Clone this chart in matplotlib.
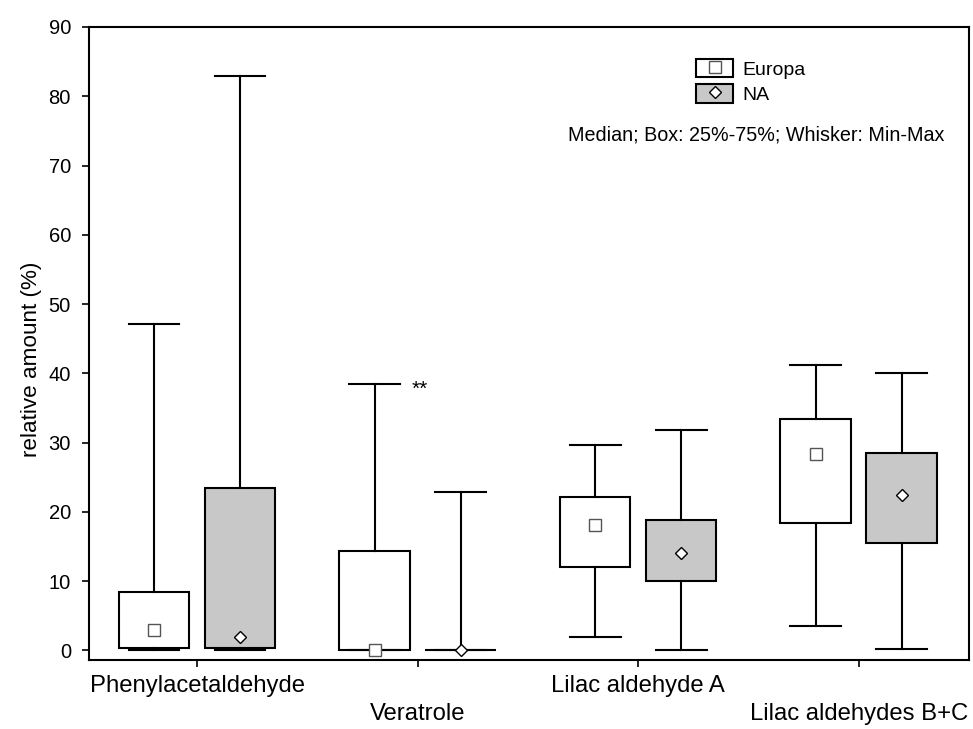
import matplotlib
matplotlib.use("Agg")
import matplotlib.pyplot as plt
from matplotlib.patches import Patch
from matplotlib.lines import Line2D

plt.rcParams['font.family'] = ['Liberation Sans', 'DejaVu Sans']

categories = ["Phenylacetaldehyde", "Veratrole", "Lilac aldehyde A", "Lilac aldehydes B+C"]
groups = ["Europa", "NA"]

# min, Q1, median, Q3, max per category
europa_min = [0.0, 0.0, 1.9, 3.5]
europa_q1 = [0.3, 0.0, 12.1, 18.4]
europa_med = [3.0, 0.0, 18.1, 28.3]
europa_q3 = [8.4, 14.3, 22.1, 33.4]
europa_max = [47.1, 38.4, 29.6, 41.2]

na_min = [0.0, 0.0, 0.0, 0.2]
na_q1 = [0.3, 0.0, 10.0, 15.5]
na_med = [1.9, 0.0, 14.0, 22.4]
na_q3 = [23.4, 0.0, 18.8, 28.5]
na_max = [82.9, 22.8, 31.8, 40.0]

yticks = [0, 10, 20, 30, 40, 50, 60, 70, 80, 90]
note_text = "Median; Box: 25%-75%; Whisker: Min-Max"
signif_text = "**"


def make_stats(mins, q1s, meds, q3s, maxs):
    return [dict(whislo=a, q1=b, med=c, q3=d, whishi=e, mean=c, fliers=[])
            for a, b, c, d, e in zip(mins, q1s, meds, q3s, maxs)]


fig = plt.figure(figsize=(9.73, 7.29), dpi=100)
ax = fig.add_axes([89 / 973, 69 / 729, 880 / 973, 633 / 729])

offset = 0.195
bw = 0.32
cw = 0.23
n = len(categories)
lw = 1.5

styles = [
    dict(face="white", marker="s", ms=8.2, mec="#555555"),
    dict(face="#c8c8c8", marker="D", ms=6.6, mec="black"),
]
datasets = [
    make_stats(europa_min, europa_q1, europa_med, europa_q3, europa_max),
    make_stats(na_min, na_q1, na_med, na_q3, na_max),
]

for gi, (stats, st) in enumerate(zip(datasets, styles)):
    pos = [i + (offset if gi else -offset) for i in range(n)]
    ax.bxp(stats, positions=pos, widths=bw, capwidths=cw,
           patch_artist=True, showmeans=True, showfliers=False,
           boxprops=dict(facecolor=st["face"], edgecolor="black", linewidth=lw),
           whiskerprops=dict(color="black", linewidth=lw),
           capprops=dict(color="black", linewidth=lw),
           medianprops=dict(linewidth=0),
           meanprops=dict(marker=st["marker"], markerfacecolor="white",
                          markeredgecolor=st["mec"], markersize=st["ms"],
                          markeredgewidth=1.0),
           manage_ticks=False)

ax.set_xlim(-0.49, 3.5)
ax.set_ylim(-1.4, 90)
ax.set_yticks(yticks)
ax.set_yticklabels([str(t) for t in yticks], fontsize=14.5)
ax.set_xticks(range(n))
xt = ax.set_xticklabels([c if i % 2 == 0 else "\n" + c for i, c in enumerate(categories)],
                        fontsize=17.2)
for t in xt:
    t.set_linespacing(1.35)
ax.tick_params(axis='y', length=5, width=1.2, pad=8, direction='out')
ax.tick_params(axis='x', length=5, width=1.2, pad=6, direction='out')
for sp in ax.spines.values():
    sp.set_linewidth(1.5)

ax.set_ylabel("relative amount (%)", fontsize=16.2)
ax.yaxis.set_label_coords(-0.053, 0.475)

ax.text(0.975, 39.0, signif_text, fontsize=15, va='top', ha='left')
ax.text(0.544, 0.829, note_text, transform=ax.transAxes, fontsize=14.2,
        va='center', ha='left')

handles = []
for st in styles:
    p = Patch(facecolor=st["face"], edgecolor="black", linewidth=lw)
    m = Line2D([], [], linestyle='none', marker=st["marker"], markerfacecolor="white",
               markeredgecolor=st["mec"], markersize=st["ms"], markeredgewidth=1.0)
    handles.append((p, m))
ax.legend(handles, groups, loc='upper left', bbox_to_anchor=(0.69, 0.95),
          frameon=False, fontsize=14, handlelength=1.9, handleheight=1.1,
          labelspacing=0.3, handletextpad=0.45, borderpad=0, borderaxespad=0)

fig.savefig("out.png", dpi=100)
